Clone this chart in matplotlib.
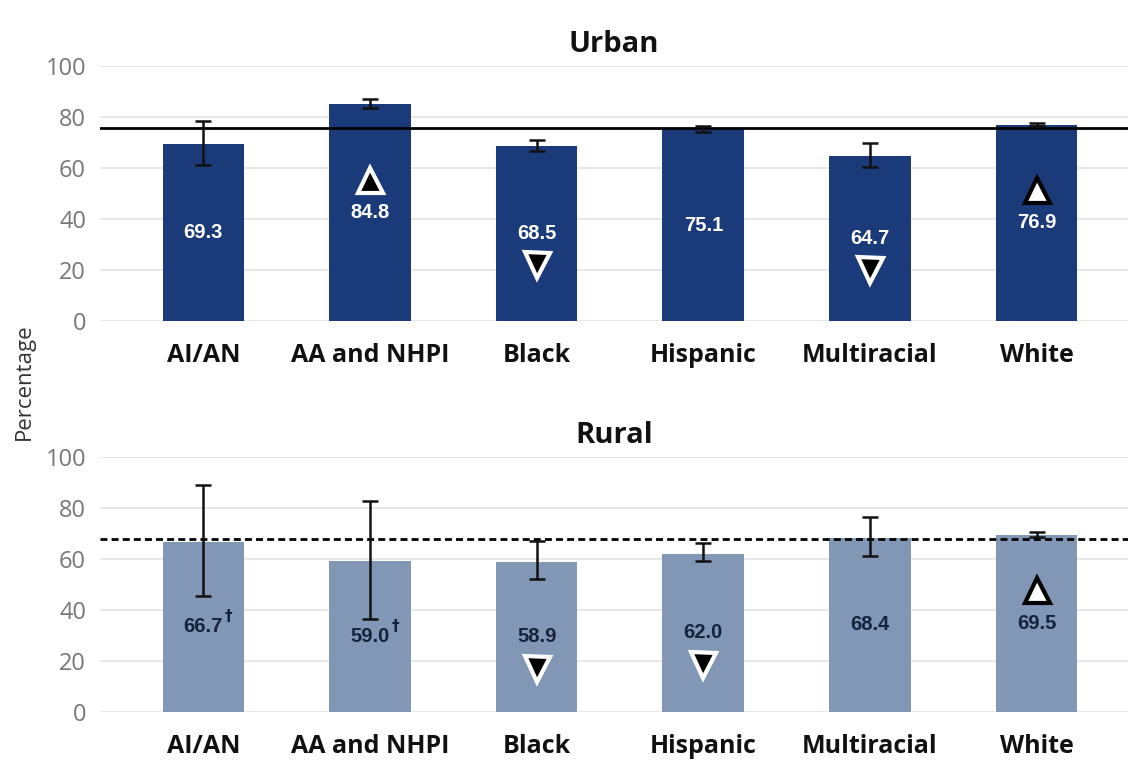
import matplotlib.pyplot as plt
import numpy as np

groups = ['AI/AN', 'AA and NHPI', 'Black', 'Hispanic', 'Multiracial', 'White']

urban_vals = [69.3, 84.8, 68.5, 75.1, 64.7, 76.9]
urban_lo = [61.2, 83.5, 66.7, 74.2, 60.3, 76.5]
urban_hi = [78.2, 87.1, 71.0, 76.2, 69.9, 77.6]
urban_mark = [None, 'up_dark', 'down', None, 'down', 'up_light']
urban_ref = 75.7

rural_vals = [66.7, 59.0, 58.9, 62.0, 68.4, 69.5]
rural_lo = [45.6, 36.5, 52.0, 59.2, 61.3, 68.7]
rural_hi = [89.0, 82.7, 67.0, 66.2, 76.4, 70.5]
rural_mark = [None, None, 'down', 'down', None, 'up_light']
rural_dagger = [True, True, False, False, False, False]
rural_ref = 67.8

dark_blue = '#1b3a79'
light_blue = '#8297b5'

fig = plt.figure(figsize=(11.3, 7.64), dpi=100)
ax_top = fig.add_axes([0.0885, 0.580, 0.910, 0.334])
ax_bot = fig.add_axes([0.0885, 0.068, 0.910, 0.334])


def draw_panel(ax, title, vals, lo, hi, marks, ref, ref_style, color, txt_color, daggers=None):
    x = np.arange(len(groups))
    vals = np.array(vals)
    err = [vals - np.array(lo), np.array(hi) - vals]
    ax.bar(x, vals, width=0.49, color=color, zorder=2)
    ax.errorbar(x, vals, yerr=err, fmt='none', ecolor='#111111', elinewidth=1.8,
                capsize=6, capthick=1.8, zorder=4)
    ax.axhline(ref, color='black', lw=2, ls=ref_style, zorder=3)

    for i, v in enumerate(vals):
        ax.text(i, v / 2, f'{v:.1f}', ha='center', va='center', color=txt_color,
                fontsize=14.5, fontweight='bold', family='Liberation Sans', zorder=5)
        if daggers and daggers[i]:
            ax.text(i + 0.13, v / 2 + 4, '\u2020', ha='left', va='center', color=txt_color,
                    fontsize=11, fontweight='bold', family='DejaVu Sans', zorder=5)
        m = marks[i]
        if m == 'up_dark':
            ax.plot(i, v / 2 + 13, marker='^', ms=18, mfc='black', mec='white', mew=3, zorder=6)
        elif m == 'up_light':
            ax.plot(i, v / 2 + 13, marker='^', ms=18, mfc='white', mec='black', mew=3, zorder=6)
        elif m == 'down':
            ax.plot(i, v / 2 - 12.5, marker='v', ms=18, mfc='black', mec='white', mew=3, zorder=6)

    ax.set_xlim(-0.62, 5.55)
    ax.set_ylim(0, 100)
    ax.set_yticks(range(0, 101, 20))
    ax.set_xticks(x)
    ax.set_xticklabels(groups, fontsize=18, fontweight='bold', family='Open Sans', color='#111111')
    ax.tick_params(axis='x', length=0, pad=16)
    ax.tick_params(axis='y', length=0, pad=10, labelcolor='#777777', labelsize=17)
    for lbl in ax.get_yticklabels():
        lbl.set_family('Open Sans')
    ax.grid(axis='y', color='#e4e4e4', lw=1.2, zorder=0)
    for s in ax.spines.values():
        s.set_visible(False)
    ax.set_title(title, fontsize=21, fontweight='bold', family='Open Sans', pad=10, color='#111111')


draw_panel(ax_top, 'Urban', urban_vals, urban_lo, urban_hi, urban_mark, urban_ref, '-',
           dark_blue, 'white')
draw_panel(ax_bot, 'Rural', rural_vals, rural_lo, rural_hi, rural_mark, rural_ref, (0, (2.5, 1.5)),
           light_blue, '#16233d', daggers=rural_dagger)

fig.text(0.022, 0.5, 'Percentage', rotation=90, ha='center', va='center', fontsize=16,
         family='Open Sans', color='#333333')

fig.savefig('out.png', dpi=100)
